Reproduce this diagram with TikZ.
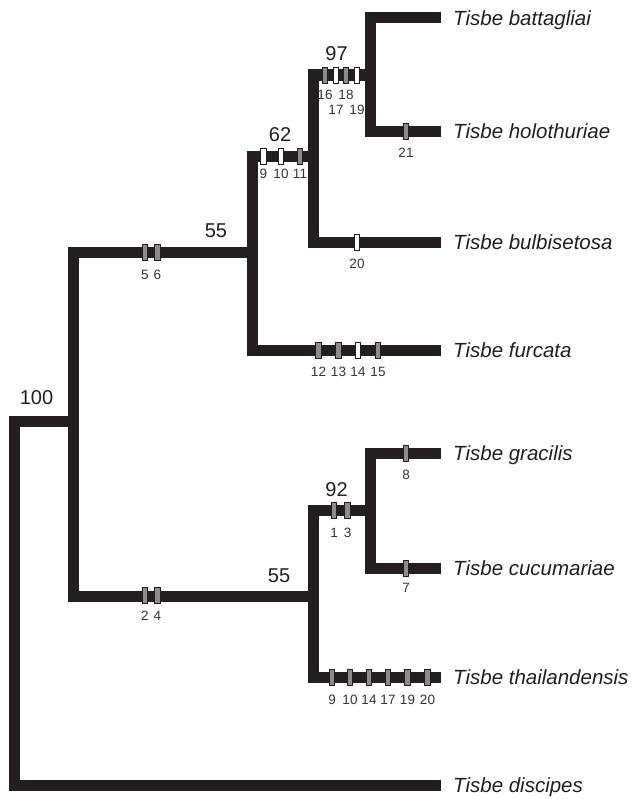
\documentclass[tikz,border=0pt]{standalone}
\usepackage{fontspec}
\setmainfont{Liberation Sans}
\definecolor{ink}{HTML}{231F20}
\definecolor{mgray}{HTML}{8C8C8C}
\begin{document}
\begin{tikzpicture}[x=1bp,y=-1bp,
  br/.style={draw=ink,line width=11bp,line cap=butt,line join=miter},
  mk/.style={draw=ink,line width=0.9bp,minimum width=5.4bp,minimum height=16bp,inner sep=0pt,shape=rectangle},
  mlab/.style={inner sep=0pt,font=\fontsize{13.5bp}{15bp}\selectfont,text=ink!90},
  boot/.style={inner sep=0pt,font=\fontsize{20bp}{22bp}\selectfont,text=ink},
  sp/.style={inner sep=0pt,anchor=base west,font=\fontsize{20.5bp}{23bp}\selectfont\itshape,text=ink}]
\useasboundingbox[fill=white] (0,0) rectangle (634,799);
\newcommand\mrk[6]{\node[mk,fill=#4] (#1) at (#2,#3) {}; \node[mlab] (#1l) at (#2,#3+#6) {#5};}
% tree nodes
\coordinate (root) at (14.5,421);
\coordinate (n100) at (73,421);
\coordinate (n55u) at (252,252);
\coordinate (n55l) at (313,596);
\coordinate (n62) at (313,156);
\coordinate (n97) at (370,75);
\coordinate (n92) at (370,510);
% tips
\coordinate (t1) at (441,18);
\coordinate (t2) at (441,131);
\coordinate (t3) at (441,242);
\coordinate (t4) at (441,350);
\coordinate (t5) at (441,453);
\coordinate (t6) at (441,568);
\coordinate (t7) at (441,677);
\coordinate (t8) at (441,785);
% branches
\draw[br] (n100) -- (root) |- (t8);
\draw[br] (n55u) -| (n100) |- (n55l);
\draw[br] (n62) -| (n55u) |- (t4);
\draw[br] (n97) -| (n62) |- (t3);
\draw[br] (t1) -| (n97) |- (t2);
\draw[br] (n92) -| (n55l) |- (t7);
\draw[br] (t5) -| (n92) |- (t6);
% species
\node[sp] (s1) at (453,18+7.3) {Tisbe battagliai};
\node[sp] (s2) at (453,131+7.3) {Tisbe holothuriae};
\node[sp] (s3) at (453,242+7.3) {Tisbe bulbisetosa};
\node[sp] (s4) at (453,350+7.3) {Tisbe furcata};
\node[sp] (s5) at (453,453+7.3) {Tisbe gracilis};
\node[sp] (s6) at (453,568+7.3) {Tisbe cucumariae};
\node[sp] (s7) at (453,677+7.3) {Tisbe thailandensis};
\node[sp] (s8) at (453,785+7.3) {Tisbe discipes};
% bootstrap values
\node[boot] (b100) at (36.5,397.5) {100};
\node[boot] (b55u) at (216,231) {55};
\node[boot] (b62) at (280,135) {62};
\node[boot] (b97) at (336.5,53.5) {97};
\node[boot] (b55l) at (279,575.5) {55};
\node[boot] (b92) at (336.5,489.5) {92};
% character markers
\mrk{ma5}{145}{252}{mgray}{5}{22.5}
\mrk{ma6}{157.5}{252}{mgray}{6}{22.5}
\mrk{mb9}{263.5}{156}{white}{9}{18}
\mrk{mb10}{281}{156}{white}{10}{18}
\mrk{mb11}{300}{156}{mgray}{11}{18}
\mrk{mc16}{325}{75}{mgray}{16}{19.5}
\mrk{mc17}{336}{75}{white}{17}{34.5}
\mrk{mc18}{346}{75}{mgray}{18}{19.5}
\mrk{mc19}{357}{75}{white}{19}{34.5}
\mrk{md21}{406}{131}{mgray}{21}{21.5}
\mrk{me20}{357}{242}{white}{20}{22}
\mrk{mf12}{318.5}{350}{mgray}{12}{22}
\mrk{mf13}{338.5}{350}{mgray}{13}{22}
\mrk{mf14}{358}{350}{white}{14}{22}
\mrk{mf15}{378}{350}{mgray}{15}{22}
\mrk{mg1}{334}{510}{mgray}{1}{22.5}
\mrk{mg3}{347.5}{510}{mgray}{3}{22.5}
\mrk{mh8}{406}{453}{mgray}{8}{21.5}
\mrk{mi7}{406}{568}{mgray}{7}{19.5}
\mrk{mj2}{145}{595}{mgray}{2}{21}
\mrk{mj4}{157.5}{595}{mgray}{4}{21}
\mrk{mk9}{332}{677}{mgray}{9}{22.5}
\mrk{mk10}{350}{677}{mgray}{10}{22.5}
\mrk{mk14}{369}{677}{mgray}{14}{22.5}
\mrk{mk17}{388}{677}{mgray}{17}{22.5}
\mrk{mk19}{407.5}{677}{mgray}{19}{22.5}
\mrk{mk20}{427.5}{677}{mgray}{20}{22.5}
\end{tikzpicture}
\end{document}
